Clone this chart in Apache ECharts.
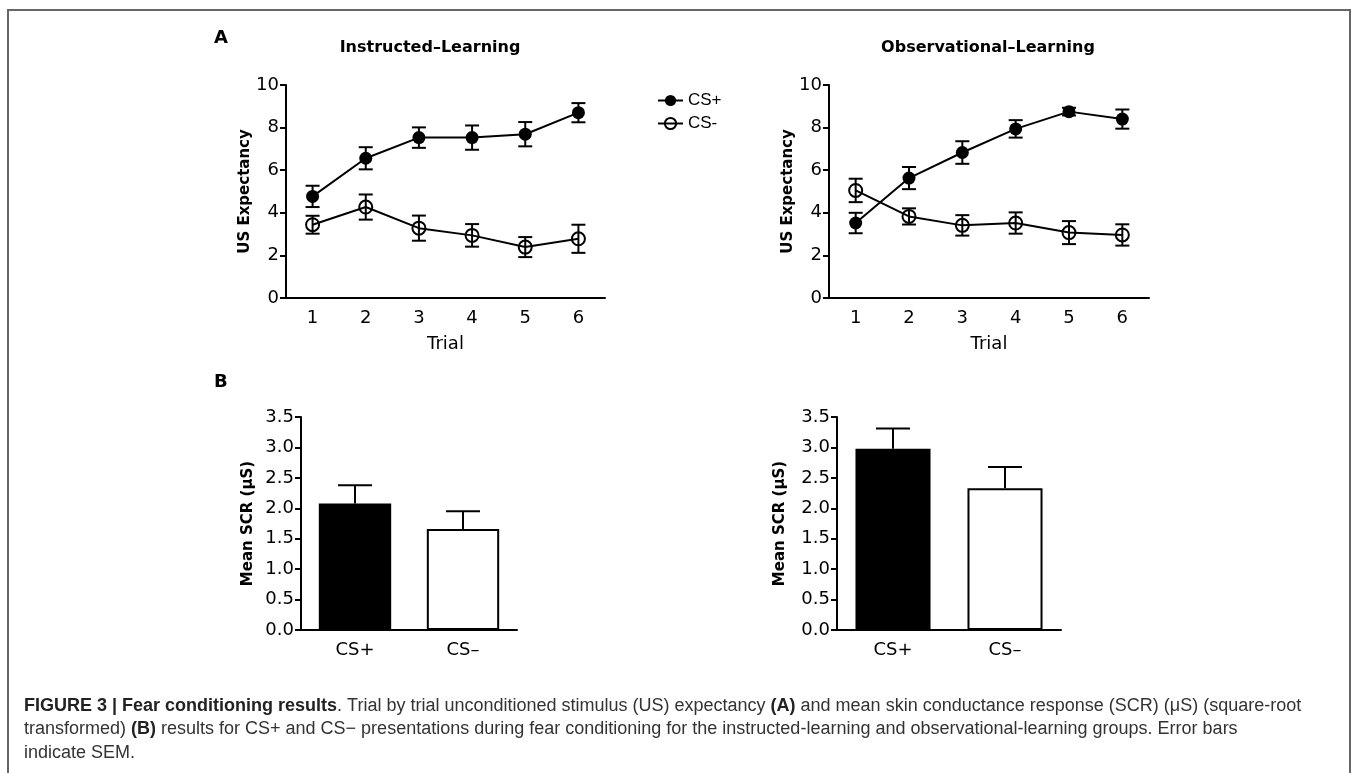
<!DOCTYPE html>
<html>
<head>
    <meta charset="utf-8">
    <title>Fear conditioning results</title>
    <script src="https://cdn.jsdelivr.net/npm/echarts@6/dist/echarts.min.js"></script>
    <style>
        body { margin: 0; background: #fff; }
    </style>
</head>
<body>
    <div id="main" style="width:1354px;height:773px;"></div>
    <script type="text/javascript">
        // values
        var trials = ['1', '2', '3', '4', '5', '6'];
        var instCsPlus = [4.77, 6.56, 7.53, 7.53, 7.69, 8.70];
        var instCsPlusSem = [0.50, 0.52, 0.48, 0.57, 0.57, 0.45];
        var instCsMinus = [3.44, 4.27, 3.28, 2.94, 2.39, 2.78];
        var instCsMinusSem = [0.42, 0.59, 0.59, 0.53, 0.47, 0.66];
        var obsCsPlus = [3.52, 5.63, 6.83, 7.94, 8.75, 8.40];
        var obsCsPlusSem = [0.48, 0.52, 0.53, 0.41, 0.18, 0.45];
        var obsCsMinus = [5.05, 3.83, 3.41, 3.52, 3.07, 2.96];
        var obsCsMinusSem = [0.55, 0.38, 0.48, 0.50, 0.54, 0.50];
        var scrCats = ['CS+', 'CS–'];
        var instScr = [2.08, 1.66];
        var instScrSem = [0.30, 0.29];
        var obsScr = [2.98, 2.33];
        var obsScrSem = [0.33, 0.35];
        var expTicks = [0, 2, 4, 6, 8, 10];
        var scrTicks = [0, 0.5, 1, 1.5, 2, 2.5, 3, 3.5];

        var font = 'DejaVu Sans';
        var myChart = echarts.init(document.getElementById('main'));

        function withSem(vals, sems) {
            return vals.map(function (v, i) { return [i, v, sems[i]]; });
        }

        // vertical error bar with caps; upOnly for the bar charts
        function errBar(capW, upOnly) {
            return function (params, api) {
                var x = api.value(0), m = api.value(1), s = api.value(2);
                var top = api.coord([x, m + s]);
                var bot = api.coord([x, upOnly ? m : m - s]);
                var st = { stroke: '#000', lineWidth: 2 };
                var kids = [
                    { type: 'line', shape: { x1: top[0], y1: top[1], x2: bot[0], y2: bot[1] }, style: st },
                    { type: 'line', shape: { x1: top[0] - capW / 2, y1: top[1], x2: top[0] + capW / 2, y2: top[1] }, style: st }
                ];
                if (!upOnly) {
                    kids.push({ type: 'line', shape: { x1: bot[0] - capW / 2, y1: bot[1], x2: bot[0] + capW / 2, y2: bot[1] }, style: st });
                }
                return { type: 'group', children: kids };
            };
        }

        var axLine = { lineStyle: { color: '#000', width: 2 } };

        function catAxis(idx, data, name) {
            return {
                type: 'category', gridIndex: idx, data: data,
                axisLine: axLine, axisTick: { alignWithLabel: true, length: 6, lineStyle: { color: '#000', width: 2 } },
                axisLabel: { color: '#000', fontFamily: font, fontSize: 18, margin: 11 },
                name: name, nameLocation: 'middle', nameGap: 37,
                nameTextStyle: { color: '#000', fontFamily: font, fontSize: 18 }
            };
        }

        function valAxis(idx, ticks, name, gap, fmt) {
            return {
                type: 'value', gridIndex: idx, min: ticks[0], max: ticks[ticks.length - 1],
                interval: ticks[1] - ticks[0],
                axisLine: { show: true, lineStyle: { color: '#000', width: 2 } },
                axisTick: { show: true, length: 6, lineStyle: { color: '#000', width: 2 } },
                splitLine: { show: false },
                axisLabel: { color: '#000', fontFamily: font, fontSize: 18, margin: 7, formatter: fmt },
                name: name, nameLocation: 'middle', nameRotate: 90, nameGap: gap,
                nameTextStyle: { color: '#000', fontFamily: font, fontSize: 15, fontWeight: 'bold' }
            };
        }

        function lineSeries(name, idx, vals, hollow) {
            return {
                name: name, type: 'line', xAxisIndex: idx, yAxisIndex: idx, data: vals,
                symbol: 'circle', symbolSize: 13, z: 3,
                lineStyle: { color: '#000', width: 2 },
                itemStyle: hollow ? { color: 'rgba(255,255,255,0)', borderColor: '#000', borderWidth: 2 } : { color: '#000' }
            };
        }

        function errSeries(idx, vals, sems, cap, upOnly) {
            return {
                type: 'custom', xAxisIndex: idx, yAxisIndex: idx, z: 4,
                data: withSem(vals, sems), encode: { x: 0, y: 1 },
                renderItem: errBar(cap, upOnly), silent: true
            };
        }

        function barSeries(idx, vals) {
            return {
                type: 'bar', xAxisIndex: idx, yAxisIndex: idx, barWidth: '67%',
                data: vals.map(function (v, i) {
                    return { value: v, itemStyle: { color: i === 0 ? '#000' : '#fff', borderColor: '#000', borderWidth: 2 } };
                })
            };
        }

        var fmt1 = function (v) { return v.toFixed(1); };

        var option = {
            animation: false,
            grid: [
                { left: 286, top: 85, width: 319, height: 213 },
                { left: 829, top: 85, width: 320, height: 213 },
                { left: 301, top: 417, width: 216, height: 213 },
                { left: 837, top: 417, width: 224, height: 213 }
            ],
            xAxis: [
                catAxis(0, trials, 'Trial'),
                catAxis(1, trials, 'Trial'),
                catAxis(2, scrCats, ''),
                catAxis(3, scrCats, '')
            ],
            yAxis: [
                valAxis(0, expTicks, 'US Expectancy', 28),
                valAxis(1, expTicks, 'US Expectancy', 28),
                valAxis(2, scrTicks, 'Mean SCR (µS)', 45, fmt1),
                valAxis(3, scrTicks, 'Mean SCR (µS)', 49, fmt1)
            ],
            legend: {
                data: ['CS+', 'CS-'], orient: 'vertical', left: 652, top: 87,
                itemWidth: 25, itemHeight: 14, itemGap: 6,
                textStyle: { color: '#000', fontFamily: 'Liberation Sans', fontSize: 17 }
            },
            series: [
                lineSeries('CS+', 0, instCsPlus, false),
                lineSeries('CS-', 0, instCsMinus, true),
                errSeries(0, instCsPlus, instCsPlusSem, 14, false),
                errSeries(0, instCsMinus, instCsMinusSem, 14, false),
                lineSeries('CS+', 1, obsCsPlus, false),
                lineSeries('CS-', 1, obsCsMinus, true),
                errSeries(1, obsCsPlus, obsCsPlusSem, 14, false),
                errSeries(1, obsCsMinus, obsCsMinusSem, 14, false),
                barSeries(2, instScr),
                errSeries(2, instScr, instScrSem, 34, true),
                barSeries(3, obsScr),
                errSeries(3, obsScr, obsScrSem, 34, true)
            ],
            graphic: [
                { type: 'rect', shape: { x: 8, y: 10, width: 1342, height: 800 }, style: { fill: 'none', stroke: '#666', lineWidth: 2 }, silent: true },
                { type: 'text', x: 214, y: 38, style: { text: 'A', font: 'bold 18px "DejaVu Sans"', fill: '#000', verticalAlign: 'middle' } },
                { type: 'text', x: 214, y: 382, style: { text: 'B', font: 'bold 18px "DejaVu Sans"', fill: '#000', verticalAlign: 'middle' } },
                { type: 'text', x: 430, y: 48, style: { text: 'Instructed–Learning', font: 'bold 16px "DejaVu Sans"', fill: '#000', align: 'center', verticalAlign: 'middle' } },
                { type: 'text', x: 988, y: 48, style: { text: 'Observational–Learning', font: 'bold 16px "DejaVu Sans"', fill: '#000', align: 'center', verticalAlign: 'middle' } },
                {
                    type: 'text', x: 24, y: 694,
                    style: {
                        text: '{b|FIGURE 3 | Fear conditioning results}. Trial by trial unconditioned stimulus (US) expectancy {b|(A)} and mean skin conductance response (SCR) (μS) (square-root\n' +
                              'transformed) {b|(B)} results for CS+ and CS− presentations during fear conditioning for the instructed-learning and observational-learning groups. Error bars\n' +
                              'indicate SEM.',
                        fontFamily: 'Liberation Sans', fontSize: 18, lineHeight: 23.5, fill: '#333',
                        rich: { b: { fontFamily: 'Liberation Sans', fontSize: 18, fontWeight: 'bold', lineHeight: 23.5, fill: '#222' } }
                    }
                }
            ]
        };

        myChart.setOption(option);
    </script>
</body>
</html>
